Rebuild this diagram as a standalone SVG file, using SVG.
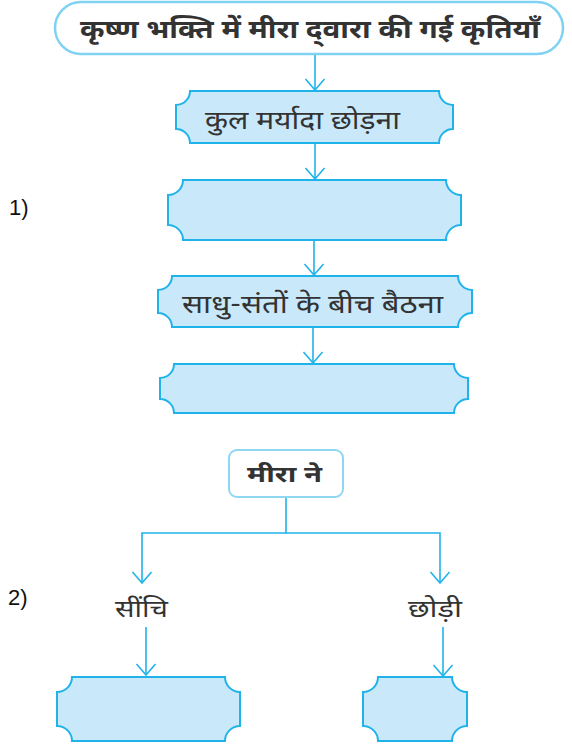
<svg xmlns="http://www.w3.org/2000/svg" width="572" height="746" viewBox="0 0 572 746">
  <style>
    .hi { font-family: "Noto Sans Devanagari", "Noto Sans", "Lohit Devanagari", sans-serif; fill: #333; }
    .num { font-family: "Liberation Sans", Arial, sans-serif; font-size: 22px; fill: #111; }
    .notch { fill: #c9e9fb; stroke: #1fb3ea; stroke-width: 2; }
    .wire { fill: none; stroke: #1fb3ea; stroke-width: 1.6; }
  </style>
  <defs>
    <!-- open V arrowhead, drawn pointing along +x so orient="auto" turns it with the line -->
    <marker id="arr" markerWidth="13" markerHeight="22" refX="12" refY="11" orient="auto" markerUnits="userSpaceOnUse" viewBox="0 0 13 22">
      <polyline points="1,1.5 12,11 1,20.5" fill="none" stroke="#1fb3ea" stroke-width="1.6"/>
    </marker>
  </defs>
  <rect width="572" height="746" fill="#ffffff"/>

  <!-- step labels -->
  <text class="num" x="9" y="215">1)</text>
  <text class="num" x="8" y="605">2)</text>

  <!-- connectors -->
  <g id="connectors">
    <line class="wire" x1="315" y1="55" x2="315" y2="90" marker-end="url(#arr)"/>
    <line class="wire" x1="315" y1="143" x2="315" y2="179" marker-end="url(#arr)"/>
    <line class="wire" x1="314" y1="240" x2="314" y2="275" marker-end="url(#arr)"/>
    <line class="wire" x1="313" y1="327" x2="313" y2="363" marker-end="url(#arr)"/>
    <polyline class="wire" points="286,497 286,533 142,533 142,583" marker-end="url(#arr)"/>
    <polyline class="wire" points="286,533 440,533 440,583" marker-end="url(#arr)"/>
    <line class="wire" x1="146" y1="627" x2="146" y2="675" marker-end="url(#arr)"/>
    <line class="wire" x1="443" y1="627" x2="443" y2="676" marker-end="url(#arr)"/>
  </g>

  <!-- heading -->
  <g id="title">
    <rect x="55" y="2" width="508" height="52" rx="26" ry="26" fill="#ffffff" stroke="#7fd2f2" stroke-width="2.5"/>
    <text class="hi" x="80" y="38" font-size="26" font-weight="bold" fill="#222" textLength="460" lengthAdjust="spacingAndGlyphs">कृष्ण भक्ति में मीरा द्‌वारा की गई कृतियाँ</text>
  </g>

  <!-- chain of actions -->
  <g id="step1">
    <path class="notch" d="M190,91 H439 A14 14 0 0 0 453,105 V129 A14 14 0 0 0 439,143 H190 A14 14 0 0 0 176,129 V105 A14 14 0 0 0 190,91 Z"/>
    <text class="hi" x="205" y="129" font-size="26" textLength="195" lengthAdjust="spacingAndGlyphs">कुल मर्यादा छोड़ना</text>
  </g>
  <g id="step2">
    <path class="notch" d="M183,180 H446 A15 15 0 0 0 461,195 V225 A15 15 0 0 0 446,240 H183 A15 15 0 0 0 168,225 V195 A15 15 0 0 0 183,180 Z"/>
  </g>
  <g id="step3">
    <path class="notch" d="M172,276 H458 A14 14 0 0 0 472,290 V313 A14 14 0 0 0 458,327 H172 A14 14 0 0 0 158,313 V290 A14 14 0 0 0 172,276 Z"/>
    <text class="hi" x="182" y="313" font-size="26" textLength="261" lengthAdjust="spacingAndGlyphs">साधु-संतों के बीच बैठना</text>
  </g>
  <g id="step4">
    <path class="notch" d="M174,364 H454 A14 14 0 0 0 468,378 V399 A14 14 0 0 0 454,413 H174 A14 14 0 0 0 160,399 V378 A14 14 0 0 0 174,364 Z"/>
  </g>

  <!-- branching part -->
  <g id="mira">
    <rect x="229" y="450" width="114" height="47" rx="8" ry="8" fill="#ffffff" stroke="#8fd6f2" stroke-width="2"/>
    <text class="hi" x="247" y="482" font-size="22" font-weight="bold" fill="#222" textLength="75" lengthAdjust="spacingAndGlyphs">मीरा ने</text>
  </g>
  <g id="sinchi">
    <text class="hi" x="115" y="617" font-size="24" textLength="53" lengthAdjust="spacingAndGlyphs">सींचि</text>
  </g>
  <g id="chhodi">
    <text class="hi" x="408" y="617" font-size="24" textLength="54" lengthAdjust="spacingAndGlyphs">छोड़ी</text>
  </g>
  <g id="left-blank">
    <path class="notch" d="M72,677 H225 A15 15 0 0 0 240,692 V726 A15 15 0 0 0 225,741 H72 A15 15 0 0 0 57,726 V692 A15 15 0 0 0 72,677 Z"/>
  </g>
  <g id="right-blank">
    <path class="notch" d="M378,677 H452 A15 15 0 0 0 467,692 V726 A15 15 0 0 0 452,741 H378 A15 15 0 0 0 363,726 V692 A15 15 0 0 0 378,677 Z"/>
  </g>
</svg>
